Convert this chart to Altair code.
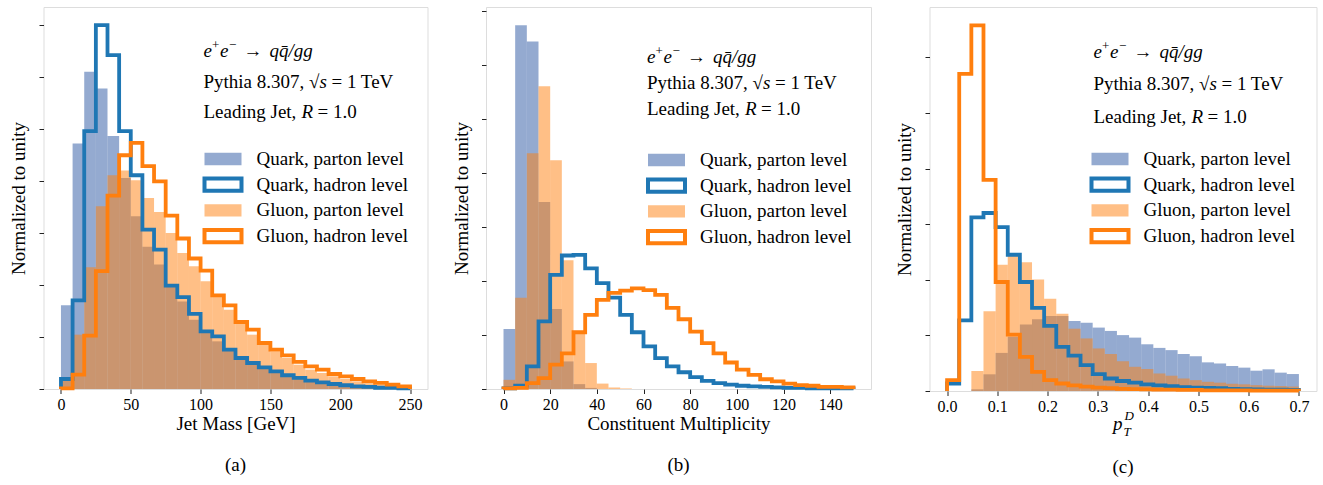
import altair as alt
import numpy as np
import pandas as pd

SERIES = ["Quark, parton level", "Quark, hadron level", "Gluon, parton level", "Gluon, hadron level"]
SERIES_COLORS = ["#4C72B0", "#1F77B4", "#FF7F0E", "#FF7F0E"]
SERIES_FILLED = [True, False, True, False]
SERIES_ALPHA = [0.6, 1.0, 0.5, 1.0]
FONT = "Liberation Serif, Times New Roman, serif"

# annotation pieces per line: (text, dx, dy, size, style)
ANNOT_PROCESS = [("e", 0, 0, 19, "italic"), ("+", 8.5, -6, 13, "normal"), ("e", 16.5, 0, 19, "italic"),
                 ("−", 25.5, -6, 13, "normal"), ("→", 40, 0, 19, "normal"), ("qq̄/gg", 66, 0, 19, "italic")]
ANNOT_GENERATOR = [("Pythia 8.307, √", 0, 0, 19, "normal"), ("s", 116, 0, 19, "italic"),
                   ("= 1 TeV", 128, 0, 19, "normal")]
ANNOT_JET = [("Leading Jet,", 0, 0, 19, "normal"), ("R", 98, 0, 19, "italic"), ("= 1.0", 114, 0, 19, "normal")]

# (a) Jet mass: 30 bins over [0, 250] GeV, density in units of 1e-3 / GeV
MASS_RANGE = (0, 250)
MASS_BINS = 30
MASS_TICKS = [0, 50, 100, 150, 200, 250]
mass_quark_parton = [4.02, 11.80, 15.24, 14.44, 12.15, 10.14, 8.30, 6.83, 5.98, 5.02, 4.21, 3.33, 2.77, 2.29, 1.89,
                     1.57, 1.25, 1.01, 0.85, 0.69, 0.56, 0.45, 0.37, 0.29, 0.24, 0.19, 0.16, 0.13, 0.10, 0.06]
mass_quark_hadron = [0.48, 4.26, 12.39, 17.48, 16.04, 12.39, 10.27, 7.66, 6.70, 4.97, 4.41, 3.61, 2.77, 2.53, 1.89,
                     1.49, 1.25, 1.04, 0.85, 0.66, 0.53, 0.40, 0.32, 0.24, 0.18, 0.13, 0.10, 0.06, 0.05, 0.03]
mass_gluon_parton = [0.40, 2.61, 5.85, 8.78, 10.27, 10.50, 10.03, 9.18, 8.51, 7.50, 6.54, 5.90, 5.18, 4.46, 3.81,
                     3.25, 2.61, 2.21, 1.81, 1.49, 1.17, 0.93, 0.77, 0.61, 0.48, 0.37, 0.27, 0.21, 0.14, 0.10]
mass_gluon_hadron = [0.03, 0.69, 2.56, 5.66, 9.29, 11.23, 11.83, 10.71, 9.98, 8.33, 7.23, 6.27, 5.69, 4.50, 4.02,
                     3.22, 2.85, 2.21, 1.89, 1.62, 1.30, 1.09, 0.93, 0.72, 0.61, 0.48, 0.37, 0.29, 0.21, 0.13]

# (b) Constituent multiplicity: 30 bins over [0, 150], density in units of 1e-2
MULT_RANGE = (0, 150)
MULT_BINS = 30
MULT_TICKS = [0, 20, 40, 60, 80, 100, 120, 140]
mult_quark_parton = [1.11, 6.73, 6.43, 3.46, 1.48, 0.51, 0.09, 0.02, 0, 0, 0, 0, 0, 0, 0,
                     0, 0, 0, 0, 0, 0, 0, 0, 0, 0, 0, 0, 0, 0, 0]
mult_quark_hadron = [0.01, 0.06, 0.42, 1.25, 2.11, 2.47, 2.48, 2.23, 1.96, 1.69, 1.37, 1.05, 0.79, 0.57, 0.42,
                     0.31, 0.22, 0.15, 0.11, 0.08, 0.06, 0.05, 0.04, 0.03, 0.02, 0.02, 0.01, 0.01, 0.01, 0.01]
mult_gluon_parton = [0.17, 1.69, 4.36, 5.60, 4.23, 2.38, 1.02, 0.48, 0.10, 0.03, 0.01, 0, 0, 0, 0,
                     0, 0, 0, 0, 0, 0, 0, 0, 0, 0, 0, 0, 0, 0, 0]
mult_gluon_hadron = [0.01, 0.02, 0.11, 0.20, 0.45, 0.66, 1.05, 1.37, 1.65, 1.78, 1.82, 1.86, 1.83, 1.74, 1.50,
                     1.29, 1.06, 0.85, 0.66, 0.49, 0.36, 0.26, 0.18, 0.14, 0.10, 0.07, 0.06, 0.04, 0.04, 0.03]

# (c) p_T^D: 29 bins over [0, 0.7], density
PTD_RANGE = (0, 0.7)
PTD_BINS = 29
PTD_TICKS = [0.0, 0.1, 0.2, 0.3, 0.4, 0.5, 0.6, 0.7]
ptd_quark_parton = [0, 0, 0.06, 0.60, 1.37, 1.95, 2.39, 2.58, 2.70, 2.70, 2.52, 2.45, 2.28, 2.16, 2.01,
                    1.92, 1.68, 1.55, 1.47, 1.33, 1.25, 1.03, 0.99, 0.90, 0.84, 0.73, 0.78, 0.66, 0.61]
ptd_quark_hadron = [0.27, 2.54, 6.24, 6.40, 5.89, 4.90, 3.92, 2.99, 2.34, 1.59, 1.27, 0.93, 0.61, 0.45, 0.36,
                    0.30, 0.24, 0.20, 0.17, 0.14, 0.12, 0.11, 0.10, 0.08, 0.07, 0.06, 0.05, 0.05, 0.04]
ptd_gluon_parton = [0, 0, 0.72, 2.87, 4.54, 4.87, 4.63, 4.01, 3.32, 2.78, 2.24, 1.89, 1.53, 1.33, 1.07,
                    0.87, 0.79, 0.63, 0.55, 0.45, 0.39, 0.33, 0.30, 0.26, 0.24, 0.21, 0.19, 0.18, 0.16]
ptd_gluon_hadron = [0.39, 11.40, 13.15, 7.59, 3.92, 2.03, 1.23, 0.69, 0.39, 0.27, 0.20, 0.16, 0.12, 0.10, 0.08,
                    0.07, 0.06, 0.05, 0.05, 0.04, 0.04, 0.02, 0.02, 0.02, 0.02, 0.01, 0.01, 0.01, 0.01]


def fill_frame(edges, qp, gp):
    rows = []
    for name, vals in ((SERIES[0], qp), (SERIES[2], gp)):
        for i, v in enumerate(vals):
            if v > 0:
                rows.append({"x0": edges[i], "x1": edges[i + 1], "y": v, "series": name})
    return pd.DataFrame(rows)


def step_frame(edges, vals, name):
    xs = [edges[0]] + list(edges[:-1]) + [edges[-1], edges[-1]]
    ys = [0.0] + list(vals) + [vals[-1], 0.0]
    return pd.DataFrame({"x": xs, "y": ys, "i": range(len(xs)), "series": name})


def text_layer(s, x, y, size=19, style="normal", align="left", baseline="middle"):
    return alt.Chart(pd.DataFrame({"t": [s]})).mark_text(
        font=FONT, fontSize=size, fontStyle=style, align=align, baseline=baseline, color="black"
    ).encode(x=alt.value(x), y=alt.value(y), text="t:N")


def legend_layers(x0, y0, step=25.7, sym_w=37, sym_h=12.3, label_dx=52):
    out = []
    one = pd.DataFrame({"t": [0]})
    for k, name in enumerate(SERIES):
        yc = y0 + k * step
        if SERIES_FILLED[k]:
            mark = alt.Chart(one).mark_rect(fill=SERIES_COLORS[k], opacity=SERIES_ALPHA[k], strokeWidth=0)
        else:
            mark = alt.Chart(one).mark_rect(fill="transparent", stroke=SERIES_COLORS[k], strokeWidth=4,
                                            strokeJoin="miter")
        out.append(mark.encode(x=alt.value(x0), x2=alt.value(x0 + sym_w),
                               y=alt.value(yc - sym_h / 2), y2=alt.value(yc + sym_h / 2)))
        out.append(text_layer(name, x0 + label_dx, yc))
    return out


def make_panel(rng, nbins, ticks, tick_fmt, ystep, qp, qh, gp, gh, width, height,
               xtitle, annot_xy, legend_xy, caption, extra_top, ptd_title=False):
    edges = list(np.linspace(rng[0], rng[1], nbins + 1))
    span = rng[1] - rng[0]
    xscale = alt.Scale(domain=[rng[0] - 0.05 * span, rng[1] + 0.05 * span], nice=False, zero=False)
    ymax = 1.05 * max(max(qp), max(qh), max(gp), max(gh))
    yscale = alt.Scale(domain=[0, ymax], nice=False)
    yticks = [float(v) for v in np.arange(0, ymax, ystep)]

    xaxis = alt.Axis(title=xtitle if xtitle else None, values=ticks, format=tick_fmt, grid=False, domain=False,
                     tickSize=4.5, tickColor="#222", tickWidth=1,
                     labelFont=FONT, labelFontSize=16, labelColor="black", labelPadding=3,
                     titleFont=FONT, titleFontSize=19, titleFontWeight="normal", titleColor="black",
                     titlePadding=2)
    yaxis = alt.Axis(title="Normalized to unity", values=yticks, labels=False, grid=False, domain=False,
                     tickSize=4.5, tickColor="#222", tickWidth=1,
                     titleFont=FONT, titleFontSize=19, titleFontWeight="normal", titleColor="black",
                     titlePadding=10)

    color = alt.Color("series:N", scale=alt.Scale(domain=SERIES, range=SERIES_COLORS), legend=None)

    bars = alt.Chart(fill_frame(edges, qp, gp)).mark_rect().encode(
        x=alt.X("x0:Q", scale=xscale, axis=xaxis),
        x2="x1:Q",
        y=alt.Y("y:Q", scale=yscale, axis=yaxis),
        y2=alt.datum(0),
        color=color,
        opacity=alt.condition("datum.series === 'Quark, parton level'", alt.value(0.6), alt.value(0.5)),
    )
    lines = []
    for name, vals in ((SERIES[1], qh), (SERIES[3], gh)):
        lines.append(alt.Chart(step_frame(edges, vals, name)).mark_line(
            interpolate="step-after", strokeWidth=3.8, strokeJoin="miter", strokeCap="butt"
        ).encode(x=alt.X("x:Q", scale=xscale), y=alt.Y("y:Q", scale=yscale), color=color, order="i:Q"))

    layers = [bars] + lines
    ax, ay = annot_xy
    for line_y, pieces in zip(ay, (ANNOT_PROCESS, ANNOT_GENERATOR, ANNOT_JET)):
        for (s, dx, dy, size, style) in pieces:
            layers.append(text_layer(s, ax + dx, line_y + dy, size=size, style=style))
    layers += legend_layers(legend_xy[0], legend_xy[1])
    layers.append(text_layer(caption, width / 2, height + 76, size=19, align="center"))
    if ptd_title:
        layers.append(text_layer("p", width / 2 - 10, height + 39, size=19, style="italic", baseline="alphabetic"))
        layers.append(text_layer("D", width / 2 + 1.5, height + 29, size=13, style="italic", baseline="alphabetic"))
        layers.append(text_layer("T", width / 2 + 0.5, height + 45, size=13, style="italic", baseline="alphabetic"))
    if extra_top > 0:
        layers.append(alt.Chart(pd.DataFrame({"t": [0]})).mark_rule(opacity=0).encode(
            x=alt.value(0), y=alt.value(-extra_top), y2=alt.value(0)))
    return alt.layer(*layers).properties(width=width, height=height)


panel_a = make_panel(MASS_RANGE, MASS_BINS, MASS_TICKS, "d", 2.5,
                     mass_quark_parton, mass_quark_hadron, mass_gluon_parton, mass_gluon_hadron,
                     384, 382, "Jet Mass [GeV]", (160, [44, 75, 105]), (161, 152), "(a)", 4)
panel_b = make_panel(MULT_RANGE, MULT_BINS, MULT_TICKS, "d", 1.0,
                     mult_quark_parton, mult_quark_hadron, mult_gluon_parton, mult_gluon_hadron,
                     385, 382, "Constituent Multiplicity", (161, [50, 76, 102]), (162, 153), "(b)", 4)
panel_c = make_panel(PTD_RANGE, PTD_BINS, PTD_TICKS, ".1f", 2.0,
                     ptd_quark_parton, ptd_quark_hadron, ptd_gluon_parton, ptd_gluon_hadron,
                     387, 384, None, (164, [45, 77, 110]), (162, 152), "(c)", 0, ptd_title=True)

chart = alt.hconcat(panel_a, panel_b, panel_c, spacing=22.5).resolve_scale(
    color="independent", x="independent", y="independent"
).properties(
    padding={"left": 8.5, "top": 2, "right": 5, "bottom": 0}
).configure_view(stroke="#222", strokeWidth=1).configure(background="white")

chart.save("out.html", embed_options={"renderer": "svg", "actions": False})
